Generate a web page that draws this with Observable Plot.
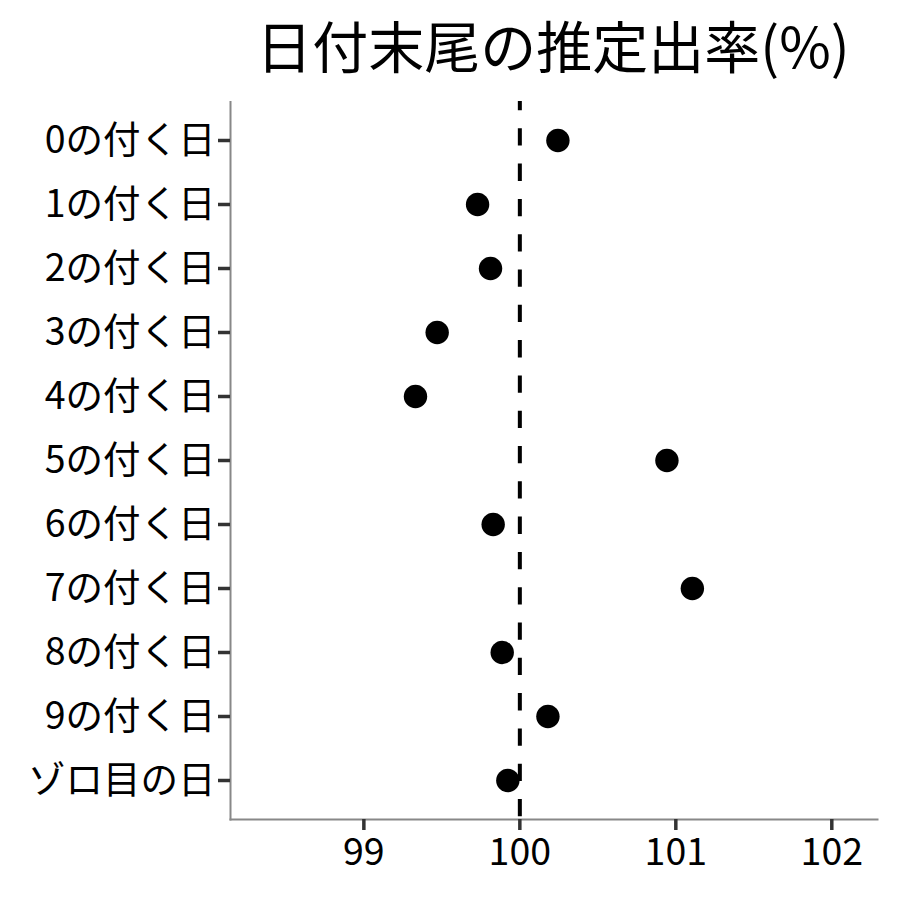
<!DOCTYPE html>
<html>
<head>
<meta charset="utf-8">
<script src="https://cdn.jsdelivr.net/npm/d3@7"></script>
<script src="https://cdn.jsdelivr.net/npm/@observablehq/plot@0.6"></script>
<style>
  html, body { margin: 0; padding: 0; background: #fff; }
  #wrap { width: 900px; height: 900px; position: relative; font-family: "Noto Sans CJK JP", "Noto Sans", sans-serif; }
  #title { position: absolute; left: 230px; width: 646px; top: 0px; padding-top: 0px; line-height: 88px; text-align: center; font-size: 56px; color: #000; white-space: nowrap; }
  #chart { position: absolute; left: 0; top: 101px; }
</style>
</head>
<body>
<div id="wrap">
  <div id="title">日付末尾の推定出率(%)</div>
  <div id="chart"></div>
</div>
<script>
const categories = ["0の付く日", "1の付く日", "2の付く日", "3の付く日", "4の付く日", "5の付く日", "6の付く日", "7の付く日", "8の付く日", "9の付く日", "ゾロ目の日"];
const rates = [100.244, 99.729, 99.812, 99.470, 99.331, 100.943, 99.829, 101.106, 99.887, 100.180, 99.923];
const xTicks = [99, 100, 101, 102];
const xDomain = [98.145, 102.293];
const reference = [100];

const data = categories.map((c, i) => ({ category: c, rate: rates[i] }));

const chart = Plot.plot({
  width: 900,
  height: 799,
  marginLeft: 230,
  marginRight: 23,
  marginTop: 0,
  marginBottom: 81,
  style: { fontFamily: '"Noto Sans CJK JP", "Noto Sans", sans-serif', fontSize: "37.5px", color: "#000", background: "#fff" },
  x: { domain: xDomain, ticks: xTicks, label: null },
  y: { type: "point", domain: categories, padding: 0.59, label: null },
  marks: [
    Plot.frame({ anchor: "left", stroke: "#888", strokeWidth: 2 }),
    Plot.frame({ anchor: "bottom", stroke: "#888", strokeWidth: 2 }),
    Plot.axisX({ ticks: xTicks, tickFormat: "d", tickSize: 11, tickPadding: 8, stroke: "#333", strokeWidth: 3.5, fill: "#000", fontSize: 37.5, label: null }),
    Plot.axisY({ tickSize: 12, tickPadding: 3, stroke: "#333", strokeWidth: 3.5, fill: "#000", fontSize: 37.5, label: null }),
    Plot.ruleX(reference, { stroke: "#000", strokeWidth: 4, strokeDasharray: "17.3,18", strokeDashoffset: 8 }),
    Plot.dot(data, { x: "rate", y: "category", r: 11.7, fill: "#000", stroke: "none" })
  ]
});
document.getElementById("chart").appendChild(chart);
</script>
</body>
</html>
